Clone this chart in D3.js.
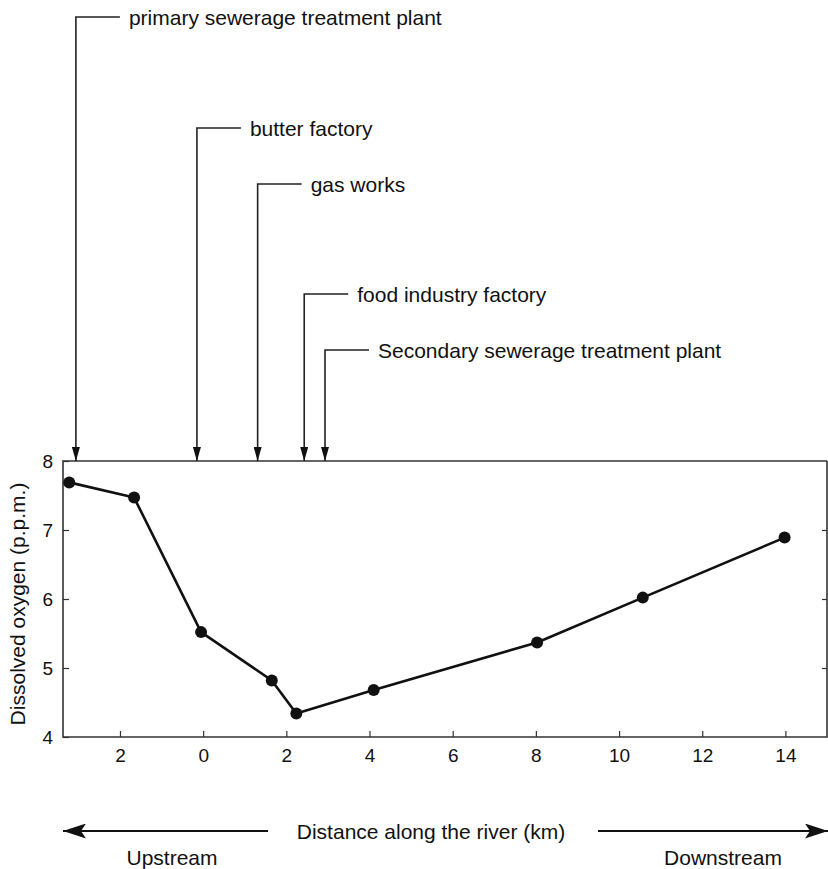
<!DOCTYPE html>
<html>
<head>
<meta charset="utf-8">
<script src="https://cdn.jsdelivr.net/npm/d3@7"></script>
<style>
  body { margin: 0; background: #fff; }
  svg { display: block; font-family: Arial, "Liberation Sans", sans-serif; }
</style>
</head>
<body>
<div id="chart"></div>
<script>
// Dissolved oxygen along the river

// distance along the river (km, negative = upstream)
const distances = [-3.22, -1.66, -0.05, 1.65, 2.24, 4.10, 8.03, 10.57, 13.98];
// dissolved oxygen (p.p.m.)
const oxygen = [7.69, 7.47, 5.52, 4.82, 4.34, 4.68, 5.37, 6.02, 6.89];

// discharge points along the river
const sources = ["primary sewerage treatment plant", "butter factory", "gas works",
    "food industry factory", "Secondary sewerage treatment plant"];
const sourceKm = [-3.06, -0.15, 1.31, 2.43, 2.93];

const xTicks = [-2, 0, 2, 4, 6, 8, 10, 12, 14];
const yTicks = [4, 5, 6, 7, 8];

function drawChart() {
    const W = 828, H = 869;
    const plot = { left: 63, right: 827, top: 461, bottom: 737 };

    const svg = d3.select("#chart")
        .append("svg")
        .attr("width", W)
        .attr("height", H);

    const x = d3.scaleLinear()
        .domain([-3.37, 15.0])
        .range([plot.left, plot.right]);

    const y = d3.scaleLinear()
        .domain([4, 8])
        .range([plot.bottom, plot.top]);

    // label rows for the discharge annotations
    const labelRow = d3.scaleOrdinal()
        .domain(sources)
        .range([17, 128, 184, 294, 350]);

    const defs = svg.append("defs");
    defs.append("marker")
        .attr("id", "head-small")
        .attr("markerUnits", "userSpaceOnUse")
        .attr("viewBox", "0 0 14 8")
        .attr("refX", 14).attr("refY", 4)
        .attr("markerWidth", 14).attr("markerHeight", 8)
        .attr("orient", "auto")
        .append("path")
        .attr("d", "M0,0 L14,4 L0,8 Z")
        .attr("fill", "#111");
    defs.append("marker")
        .attr("id", "head-big")
        .attr("markerUnits", "userSpaceOnUse")
        .attr("viewBox", "0 0 23 15")
        .attr("refX", 23).attr("refY", 7.5)
        .attr("markerWidth", 23).attr("markerHeight", 15)
        .attr("orient", "auto")
        .append("path")
        .attr("d", "M0,0 L23,7.5 L0,15 L5,7.5 Z")
        .attr("fill", "#111");

    // Axes (ticks point inwards)
    svg.append("g")
        .attr("transform", `translate(0,${plot.bottom})`)
        .call(d3.axisBottom(x).tickValues(xTicks).tickSize(-6).tickPadding(12)
            .tickFormat(d => Math.abs(d)))
        .call(g => g.select(".domain").remove())
        .selectAll("text")
        .style("font-size", "19px")
        .attr("fill", "#111");

    svg.append("g")
        .attr("transform", `translate(${plot.left},0)`)
        .call(d3.axisLeft(y).tickValues(yTicks).tickSize(-6).tickPadding(10)
            .tickFormat(d3.format("d")))
        .call(g => g.select(".domain").remove())
        .selectAll("text")
        .style("font-size", "19px")
        .attr("fill", "#111");

    svg.append("g")
        .attr("transform", `translate(${plot.right},0)`)
        .call(d3.axisRight(y).tickValues([5, 6, 7]).tickSize(-5).tickFormat(""))
        .call(g => g.select(".domain").remove());

    svg.selectAll(".tick line").attr("stroke", "#333").attr("stroke-width", 1.2);

    // frame
    svg.append("path")
        .attr("d", `M${plot.right},${plot.top} L${plot.left},${plot.top} L${plot.left},${plot.bottom} L${plot.right},${plot.bottom} L${plot.right},${plot.top}`)
        .attr("fill", "none")
        .attr("stroke", "#333")
        .attr("stroke-width", 1.6);

    // y axis label
    svg.append("text")
        .attr("transform", `translate(17,${(plot.top + plot.bottom) / 2 + 5}) rotate(-90)`)
        .attr("text-anchor", "middle")
        .attr("dominant-baseline", "central")
        .style("font-size", "21px")
        .attr("fill", "#111")
        .text("Dissolved oxygen (p.p.m.)");

    // discharge annotations
    const ann = svg.append("g").selectAll("g")
        .data(sources.map((s, i) => ({ name: s, km: sourceKm[i] })))
        .enter()
        .append("g");

    ann.append("path")
        .attr("d", d => `M${x(d.km) + 44},${labelRow(d.name)} H${x(d.km)} V${plot.top}`)
        .attr("fill", "none")
        .attr("stroke", "#222")
        .attr("stroke-width", 1.6)
        .attr("marker-end", "url(#head-small)");

    ann.append("text")
        .attr("x", d => x(d.km) + 53)
        .attr("y", d => labelRow(d.name))
        .attr("dominant-baseline", "central")
        .style("font-size", "21px")
        .attr("fill", "#111")
        .text(d => d.name);

    // oxygen profile
    const points = distances.map((d, i) => ({ km: d, o2: oxygen[i] }));

    svg.append("path")
        .datum(points)
        .attr("fill", "none")
        .attr("stroke", "#111")
        .attr("stroke-width", 2.6)
        .attr("stroke-linejoin", "round")
        .attr("d", d3.line().x(d => x(d.km)).y(d => y(d.o2)));

    svg.append("g").selectAll("circle")
        .data(points)
        .enter()
        .append("circle")
        .attr("cx", d => x(d.km))
        .attr("cy", d => y(d.o2))
        .attr("r", 6)
        .attr("fill", "#111");

    // bottom axis title with direction arrows
    const arrowY = 831;
    svg.append("line")
        .attr("x1", 268).attr("y1", arrowY)
        .attr("x2", plot.left).attr("y2", arrowY)
        .attr("stroke", "#111").attr("stroke-width", 2)
        .attr("marker-end", "url(#head-big)");
    svg.append("line")
        .attr("x1", 598).attr("y1", arrowY)
        .attr("x2", W).attr("y2", arrowY)
        .attr("stroke", "#111").attr("stroke-width", 2)
        .attr("marker-end", "url(#head-big)");

    svg.append("text")
        .attr("x", 431)
        .attr("y", arrowY)
        .attr("text-anchor", "middle")
        .attr("dominant-baseline", "central")
        .style("font-size", "21px")
        .attr("fill", "#111")
        .text("Distance along the river (km)");

    svg.append("text")
        .attr("x", 172)
        .attr("y", 857)
        .attr("text-anchor", "middle")
        .attr("dominant-baseline", "central")
        .style("font-size", "21px")
        .attr("fill", "#111")
        .text("Upstream");

    svg.append("text")
        .attr("x", 723)
        .attr("y", 857)
        .attr("text-anchor", "middle")
        .attr("dominant-baseline", "central")
        .style("font-size", "21px")
        .attr("fill", "#111")
        .text("Downstream");
}

drawChart();
</script>
</body>
</html>
